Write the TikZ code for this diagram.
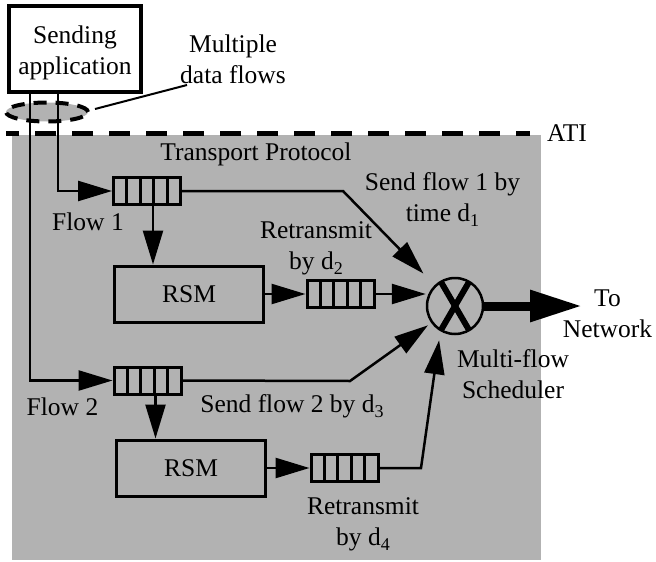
\documentclass[tikz,border=0pt]{standalone}
\usepackage{fontspec}
\setmainfont{Liberation Serif}
\usetikzlibrary{arrows.meta,shapes.geometric,calc}

% lowered subscript for the deadlines d1..d4
\newcommand{\lsub}[1]{\raisebox{-5pt}{\fontsize{18}{18}\selectfont #1}}

\tikzset{
  txt/.style={font=\fontsize{25.5}{31}\selectfont, inner sep=0pt},
  box/.style={draw, line width=3pt, inner sep=0pt},
  queue/.style={box, minimum width=67pt, minimum height=27pt,
    path picture={\foreach \k in {1,2,3,4}{
      \draw[line width=3pt] ([xshift=\k*13.4pt]path picture bounding box.north west)
        -- ([xshift=\k*13.4pt]path picture bounding box.south west);}}},
  rsm/.style={box, txt, minimum width=149pt, minimum height=56pt},
  conn/.style={line width=2.5pt},
  arr/.style={conn, -{Triangle[length=34pt,width=20pt]}},
  bigarr/.style={line width=9pt, -{Triangle[length=52pt,width=30pt]}},
}

\begin{document}
\begin{tikzpicture}[x=1pt,y=-1pt]
\useasboundingbox (0,0) rectangle (656,562);

% transport protocol area
\fill[gray!60] (12,135) rectangle (541,560);

% application/transport interface
\draw[line width=5pt, dash pattern=on 21pt off 16pt, dash phase=8pt] (6,133) -- (530,133);
\node[txt, anchor=base west] (ati) at (547,141) {ATI};

% sending application and its data flows
\node[box, line width=4pt, minimum width=132pt, minimum height=86pt] (app) at (75,49) {};
\node[txt, align=center, anchor=base] (appt) at (75,74) {Sending\\application};
\node[ellipse, draw, line width=4pt, dash pattern=on 13pt off 9pt, fill=gray!60,
      minimum width=82pt, minimum height=19pt, inner sep=0pt] (flows) at (47,112) {};
\node[txt, align=center, anchor=base] (mdf) at (233,83) {Multiple\\data flows};
\coordinate (lead) at (187,85);
\draw[line width=2pt] ([xshift=5pt,yshift=3pt]flows.east) -- (lead);

\node[txt, anchor=base] (tp) at (256,160) {Transport Protocol};

% queues, retransmission state machines and scheduler
\node[queue] (q1) at (147,191) {};
\node[queue] (q2) at (147.5,380.5) {};
\node[queue] (q3) at (340.5,294) {};
\node[queue] (q4) at (344.5,468) {};
\node[rsm] (r1) at (189,294) {RSM};
\node[rsm] (r2) at (191,468) {RSM};
\node[circle, draw, line width=2.5pt, minimum size=56pt, inner sep=0pt] (s) at (455,306) {};
\draw[line width=6pt] ($(s.center)+(-14,-24)$) -- ($(s.center)+(14,24)$);
\draw[line width=6pt] ($(s.center)+(14,-24)$) -- ($(s.center)+(-14,24)$);

% flows into the transport protocol
\draw[arr] ([xshift=-17pt]app.south) |- (q1.west);
\draw[arr] ([xshift=-45pt]app.south) |- (q2.west);
\draw[arr] ($(q1.south)+(6,0)$) -- ($(q1.south |- r1.north)+(6,0)$);
\draw[arr] ($(q2.south)+(8,0)$) -- ($(q2.south |- r2.north)+(8,0)$);
\draw[arr] (r1.east) -- (q3.west);
\draw[arr] (r2.east) -- (q4.west);

% into the scheduler
\draw[arr] (q3.east) -- (q3.east -| s.west);
\coordinate (b1) at (343,191);
\draw[arr, shorten >=16pt] (q1.east) -- (b1) -- (s);
\coordinate (b2) at (350,381);
\draw[arr, shorten >=4pt] (q2.east) -- (b2) -- (s);
\coordinate (b4) at (421,468);
\draw[arr, shorten >=9pt] (q4.east) -- (b4) -- (s.240);
\coordinate (net) at (582,306);
\draw[bigarr] (s.east) -- (net);

% labels (a multi-line node's base is the baseline of its last line)
\node[txt, align=center, anchor=base] (l1) at (442.5,221) {Send flow 1 by\\time d\lsub{1}};
\node[txt, anchor=base] (f1) at (88,230) {Flow 1};
\node[txt, align=center, anchor=base] (l2) at (316,269) {Retransmit\\by d\lsub{2}};
\node[txt, align=center, anchor=base] (tn) at (607.5,337) {To\\Network};
\node[txt, align=center, anchor=base] (ms) at (513,398) {Multi-flow\\Scheduler};
\node[txt, anchor=base] (f2) at (62.5,415) {Flow 2};
\node[txt, anchor=base] (l3) at (292,412) {Send flow 2 by d\lsub{3}};
\node[txt, align=center, anchor=base] (l4) at (363,545) {Retransmit\\by d\lsub{4}};
\end{tikzpicture}
\end{document}
